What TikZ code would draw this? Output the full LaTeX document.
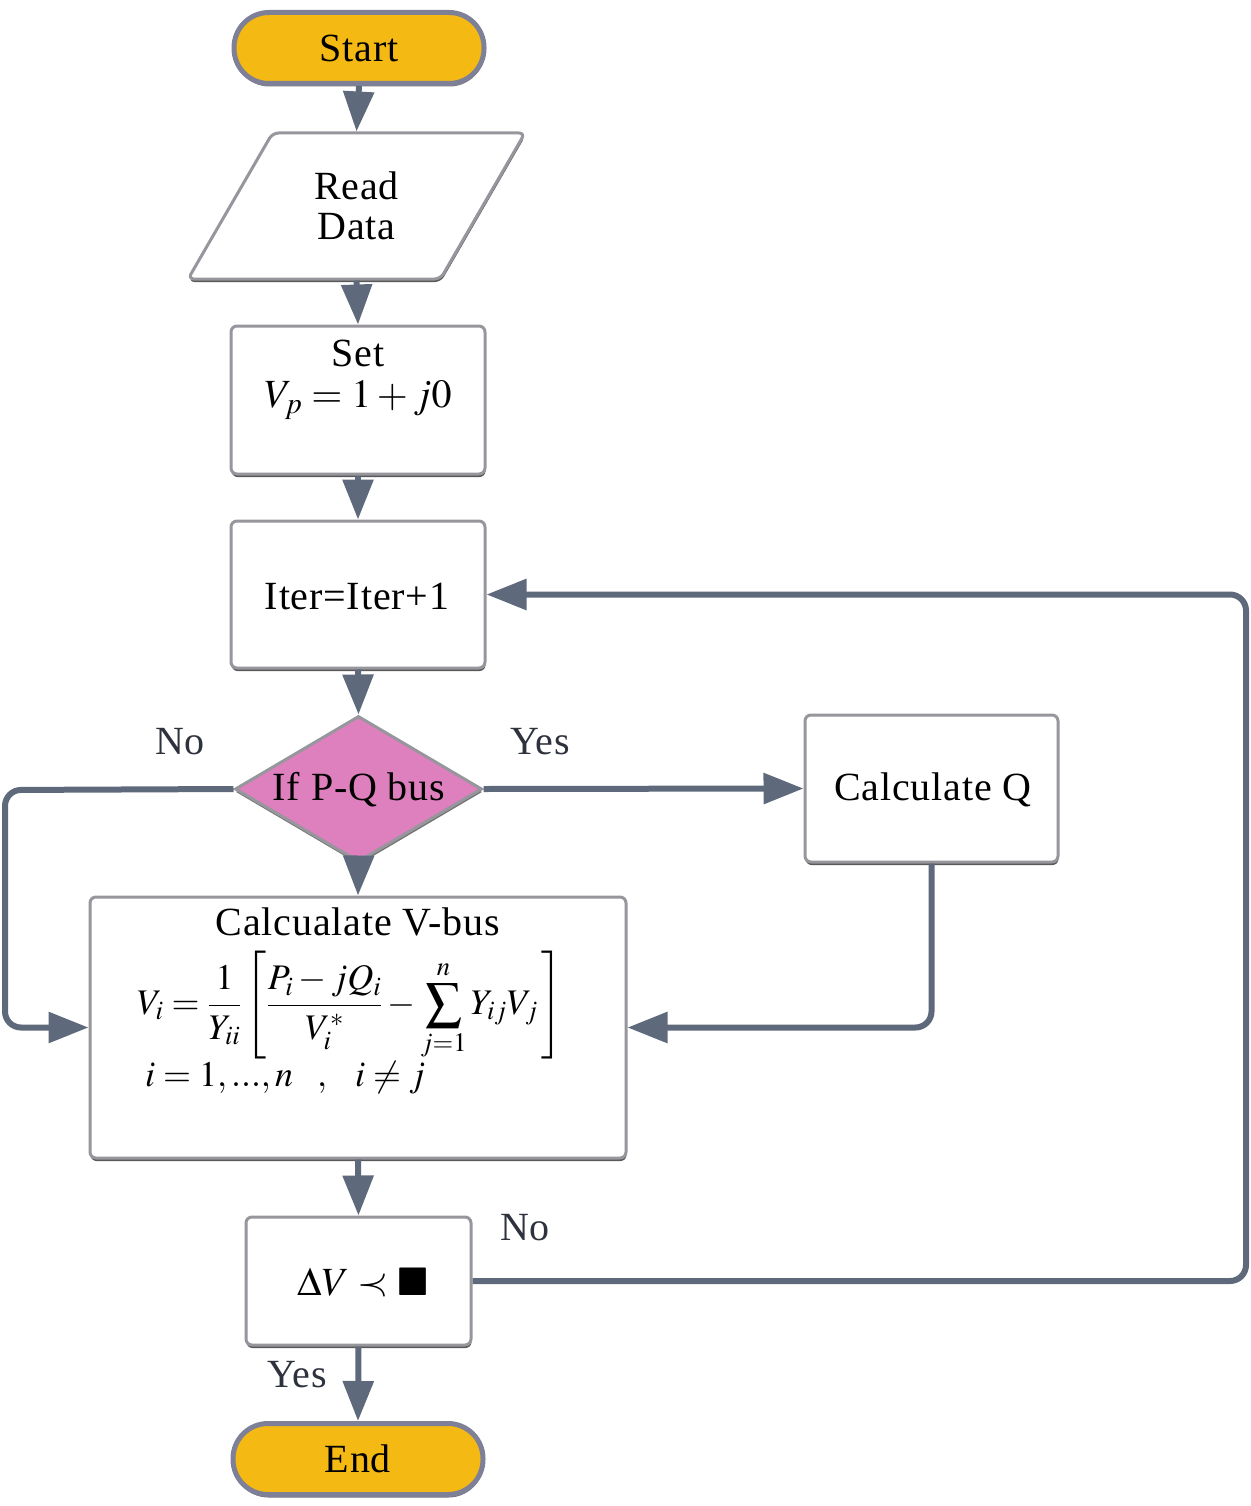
\documentclass[tikz,border=0pt]{standalone}
\usepackage{mathptmx}
\usepackage{amssymb}
\usepackage{fontspec}
\setmainfont{Liberation Serif}[LetterSpace=2]
\usetikzlibrary{arrows.meta,shapes.geometric,shadows}
\definecolor{linec}{RGB}{94,106,123}
\definecolor{boxc}{RGB}{150,150,156}
\definecolor{pillfill}{RGB}{245,185,20}
\definecolor{pillborder}{RGB}{125,128,150}
\definecolor{pinkfill}{RGB}{222,128,190}
\definecolor{labc}{RGB}{45,50,60}
\begin{document}
\begin{tikzpicture}[x=1pt,y=-1pt,
  every node/.style={font=\fontsize{40}{46}\selectfont, text=black},
  boxshape/.style={rectangle, draw=boxc, line width=3pt, rounded corners=6pt, fill=white, inner sep=0pt,
    drop shadow={shadow xshift=0.5pt, shadow yshift=-3pt, fill=black!65, opacity=1}},
  pill/.style={rectangle, draw=pillborder, line width=5pt, rounded corners=35pt, fill=pillfill, inner sep=0pt,
    minimum width=250pt, minimum height=71pt,
    drop shadow={shadow xshift=0.5pt, shadow yshift=-3pt, fill=black!55, opacity=1}},
  flow/.style={draw=linec, line width=6pt, -{Triangle[length=40pt,width=30pt]}, rounded corners=16pt},
  lab/.style={text=labc},
  txt/.style={inner sep=0pt}
]
\useasboundingbox (0,0) rectangle (1250,1506);

% nodes
\node[pill] (start) at (359,48) {Start};
\node[trapezium, trapezium stretches=true, trapezium left angle=58, trapezium right angle=122,
  draw=boxc, line width=3pt, rounded corners=6pt, fill=white, inner sep=0pt,
  minimum width=337pt, minimum height=146pt, align=center,
  drop shadow={shadow xshift=0.5pt, shadow yshift=-3pt, fill=black!65, opacity=1}]
  (read) at (356.5,206) {Read\\[-6pt]Data};

\node[boxshape, minimum width=254pt, minimum height=148pt] (set) at (358,400) {};
\node[txt] (settxt) at (358,353) {Set};
\node[txt] (setform) at (358,400) {$V_{p} = 1 + j0$};

\node[boxshape, minimum width=254pt, minimum height=147pt] (iter) at (358,594.5) {};
\node[txt] (itertxt) at (357,596) {Iter=Iter+1};

\node[diamond, draw=boxc, line width=3pt, fill=pinkfill, inner sep=0pt,
  minimum width=247pt, minimum height=146pt,
  drop shadow={shadow xshift=0.5pt, shadow yshift=-3pt, fill=black!55, opacity=1}] (dec) at (358.5,789) {};
\node[txt] (dectxt) at (359,790) {If P-Q bus};

\node[boxshape, minimum width=253pt, minimum height=147pt] (calcq) at (931.5,788.5) {};
\node[txt] (calcqtxt) at (933,790) {Calculate Q};

\node[boxshape, minimum width=536pt, minimum height=261pt] (vbus) at (358,1027.5) {};
\node[txt] (vbustxt) at (358,922) {Calcualate V-bus};
\node[txt, anchor=west, font=\fontsize{36}{40}\selectfont] (vform) at (137,1006)
  {$\displaystyle V_{i} = \frac{1}{Y_{ii}}\left[\frac{P_{i} - jQ_{i}}{V_{i}^{*}} - \sum_{j=1}^{n} Y_{ij}V_{j}\,\right]$};
\node[txt, anchor=west, font=\fontsize{36}{40}\selectfont] (vcond) at (145,1078)
  {$i = 1,...,n \;\;\; , \;\;\; i \neq j$};

\node[boxshape, minimum width=225pt, minimum height=128pt] (dv) at (358.5,1281) {};
\node[txt] (dvtxt) at (363,1283) {$\Delta V \prec \blacksquare$};

\node[pill] (end) at (358,1459) {End};

% labels
\node[lab] (no1) at (180,742) {No};
\node[lab] (yes1) at (540,742) {Yes};
\node[lab] (no2) at (525,1228) {No};
\node[lab] (yes2) at (297,1375) {Yes};

% helper coordinates
\coordinate (lft) at (5,790);
\coordinate (rgt) at (1246,1281);

% connectors
\draw[flow] (start.south) -- (read.north);
\draw[flow] (read.south) -- (set.north);
\draw[flow] (set.south) -- (iter.north);
\draw[flow] (iter.south) -- (dec.north);
\draw[flow] (dec.south) -- (vbus.north);
\draw[flow] (dec.east) -- (calcq.west);
\draw[flow] (calcq.south) |- (vbus.east);
\draw[flow] (dec.west) -- (lft) |- (vbus.west);
\draw[flow] (vbus.south) -- (dv.north);
\draw[flow] (dv.south) -- (end.north);
\draw[flow] (dv.east) -- (rgt) |- (iter.east);
\end{tikzpicture}
\end{document}
